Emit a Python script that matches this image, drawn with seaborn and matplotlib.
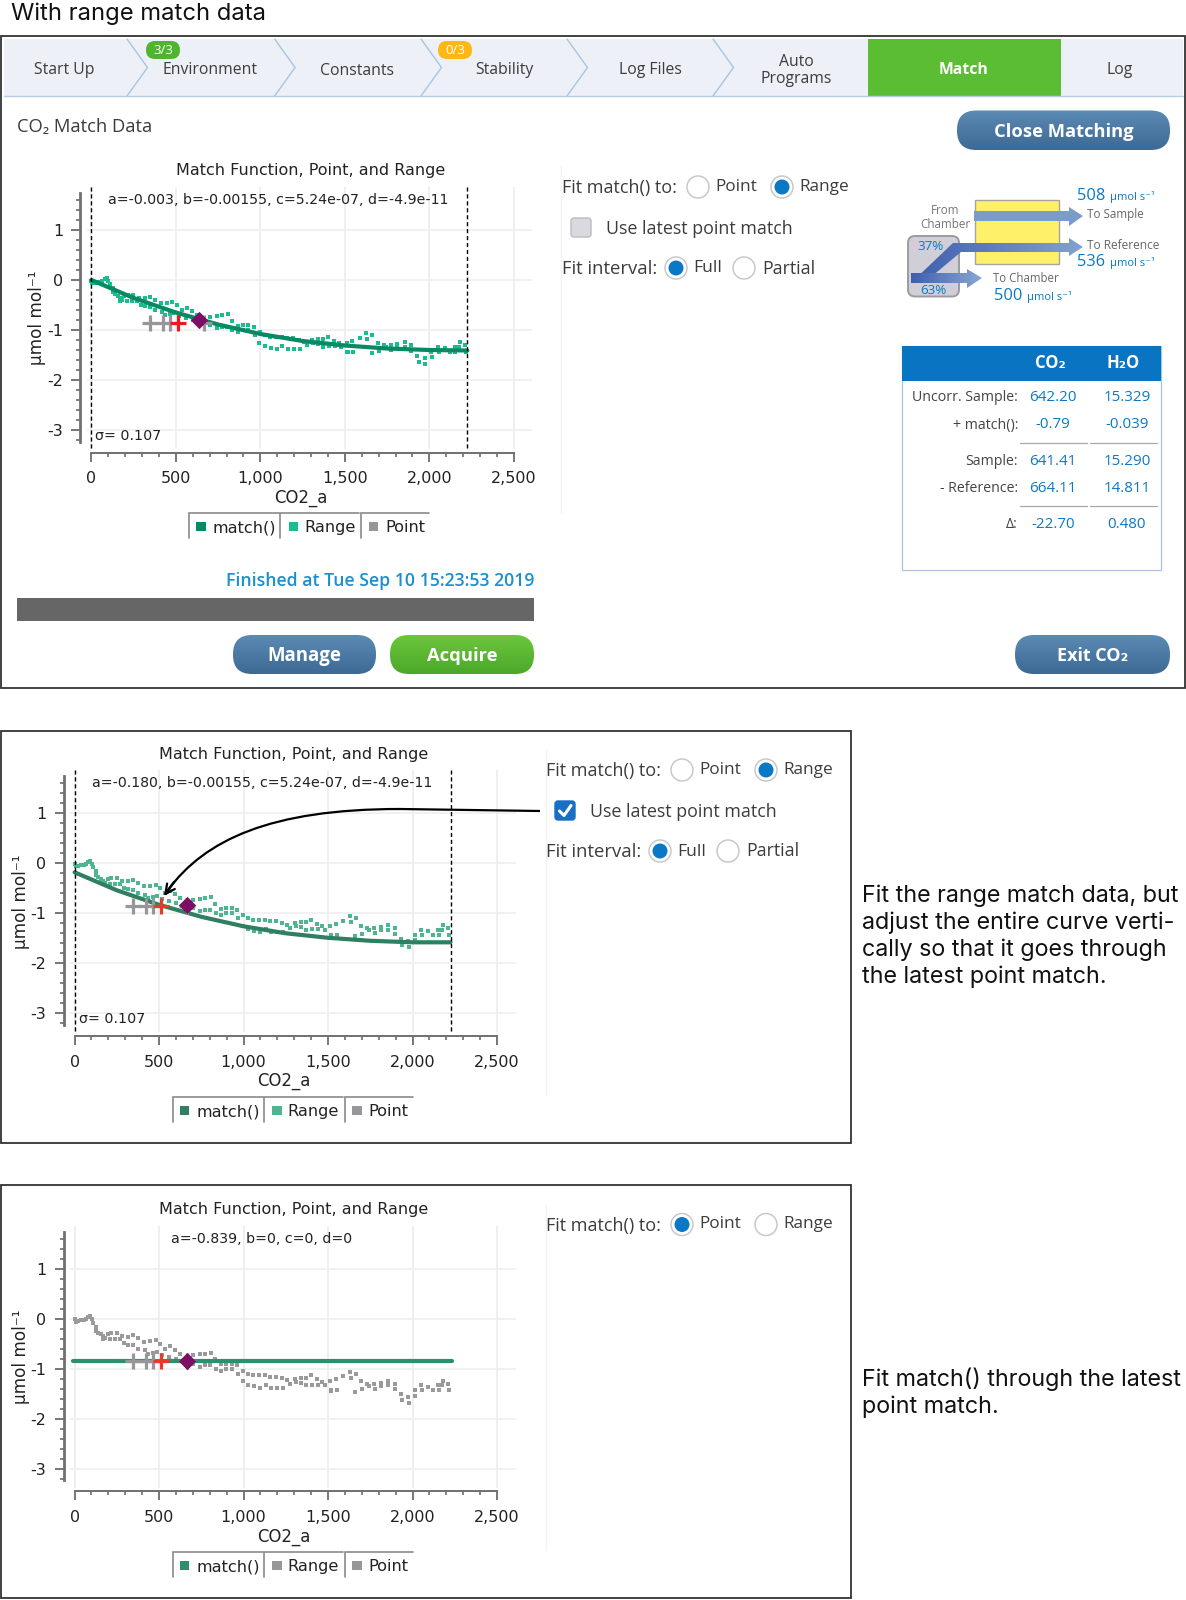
"""Recreate the CO2 range match figure: instrument screen plus two chart panels."""

import numpy as np
import matplotlib
matplotlib.use("Agg")
import matplotlib.pyplot as plt
import seaborn as sns
from matplotlib.colors import LinearSegmentedColormap
from matplotlib.patches import Circle, FancyBboxPatch, PathPatch, Polygon, Rectangle
from matplotlib.path import Path

# data
range_x = [0, 6, 22, 38, 54, 65, 81, 93, 101, 111, 125, 125, 140, 156, 168, 180, 195, 215, 249, 282,
           318, 347, 377, 412, 446, 479, 505, 534, 564, 594, 623, 702, 741, 771, 806, 830, 865, 899,
           929, 962, 968, 997, 1027, 1057, 1090, 1126, 1159, 1193, 1228, 1258, 1277, 1303, 1313, 1342,
           1342, 1368, 1368, 1402, 1405, 1437, 1441, 1465, 1480, 1510, 1515, 1551, 1545, 1588, 1628,
           1634, 1663, 1661, 1697, 1703, 1732, 1742, 1772, 1776, 1811, 1811, 1854, 1854, 1894, 1894,
           1929, 1937, 1973, 1977, 2012, 2016, 2051, 2057, 2091, 2120, 2150, 2154, 2180, 2176, 2209,
           2215, 170, 209, 239, 268, 294, 318, 347, 377, 416, 436, 465, 485, 520, 560, 600, 650, 700,
           741, 771, 800, 834, 865, 899, 929, 994, 1027, 1062, 1096, 1131, 1165, 1200, 1234, 1520]
range_y = [-0.01, -0.06, -0.05, -0.03, -0.03, -0.01, 0.03, 0.05, -0.01, -0.08, -0.16, -0.24, -0.28,
           -0.31, -0.35, -0.39, -0.31, -0.29, -0.29, -0.35, -0.36, -0.33, -0.39, -0.46, -0.45, -0.43,
           -0.50, -0.60, -0.55, -0.62, -0.70, -0.73, -0.71, -0.70, -0.68, -0.81, -0.91, -0.90, -0.90,
           -0.93, -1.10, -1.04, -1.10, -1.13, -1.13, -1.13, -1.16, -1.16, -1.19, -1.23, -1.30, -1.20,
           -1.26, -1.18, -1.28, -1.18, -1.33, -1.13, -1.32, -1.21, -1.32, -1.26, -1.33, -1.25, -1.43,
           -1.43, -1.21, -1.15, -1.06, -1.18, -1.10, -1.46, -1.25, -1.41, -1.30, -1.34, -1.30, -1.40,
           -1.28, -1.34, -1.24, -1.33, -1.30, -1.41, -1.51, -1.63, -1.56, -1.68, -1.43, -1.54, -1.33,
           -1.43, -1.36, -1.43, -1.33, -1.43, -1.24, -1.33, -1.30, -1.43, -0.41, -0.41, -0.41, -0.41,
           -0.49, -0.52, -0.53, -0.60, -0.63, -0.70, -0.68, -0.66, -0.72, -0.76, -0.80, -0.85, -0.90,
           -0.96, -0.93, -0.93, -1.00, -1.04, -1.00, -1.00, -1.25, -1.32, -1.35, -1.38, -1.32, -1.38,
           -1.38, -1.38, -1.44]

curve_x = [0, 250, 500, 750, 1000, 1250, 1500, 1750, 2000, 2225]
curve_full_y = [0.0, -0.36, -0.65, -0.89, -1.08, -1.22, -1.31, -1.37, -1.40, -1.41]
curve_shifted_y = [-0.18, -0.54, -0.83, -1.07, -1.26, -1.40, -1.49, -1.55, -1.58, -1.58]
flat_x = [-12, 2232]
flat_y = [-0.839, -0.839]

point_x = [345, 425, 465, 668]
point_y = [-0.855, -0.855, -0.855, -0.855]
latest_x = [510]
latest_y = [-0.855]
diamond_xy = [(635, -0.79), (665, -0.84), (665, -0.84)]

x_ticks = [0, 500, 1000, 1500, 2000, 2500]
x_tick_labels = ["0", "500", "1,000", "1,500", "2,000", "2,500"]
y_ticks = [1, 0, -1, -2, -3]
y_tick_labels = ["1", "0", "-1", "-2", "-3"]

tab_names = ["Start Up", "Environment", "Constants", "Stability", "Log Files",
             "Auto\nPrograms", "Match", "Log"]
table_rows = ["Uncorr. Sample:", "+ match():", "Sample:", "- Reference:", "Δ:"]
table_co2 = ["642.20", "-0.79", "641.41", "664.11", "-22.70"]
table_h2o = ["15.329", "-0.039", "15.290", "14.811", "0.480"]

W, H = 1186, 1600
UI_FONT = ["Open Sans", "DejaVu Sans"]
BODY_FONT = ["Inter", "Liberation Sans", "DejaVu Sans"]
BLUE = "#0b78c5"
DARK = "#3c3c3c"

sns.set_theme(style="white")
plt.rcParams["font.family"] = ["DejaVu Sans"]
plt.rcParams["axes.unicode_minus"] = False

fig = plt.figure(figsize=(W / 100, H / 100), dpi=100, facecolor="white")

ui = fig.add_axes([0, 0, 1, 1], zorder=10)
ui.set_xlim(0, W)
ui.set_ylim(H, 0)
ui.axis("off")
ui.set_autoscale_on(False)


def label(x, y, s, size=11.5, color=DARK, ha="left", weight="normal", family=UI_FONT, **kw):
    ui.text(x, y, s, fontsize=size, color=color, ha=ha, va="center", fontweight=weight, family=family, **kw)


def gradient_fill(patch, c1, c2, horizontal=False):
    """Fill a patch with a two colour gradient."""
    patch.set_facecolor("none")
    ui.add_patch(patch)
    (x0, y0), (x1, y1) = patch.get_path().get_extents(patch.get_patch_transform()).get_points()
    grad = np.linspace(0, 1, 64).reshape(1, -1) if horizontal else np.linspace(0, 1, 64).reshape(-1, 1)
    cmap = LinearSegmentedColormap.from_list("g", [c1, c2])
    im = ui.imshow(grad, extent=(x0, x1, y1, y0), aspect="auto", cmap=cmap, zorder=patch.get_zorder() - 0.1)
    im.set_clip_path(patch)


def pill(x0, y0, x1, y1, text, c1, c2, size=13.5):
    r = (y1 - y0) / 2
    p = FancyBboxPatch((x0, y0), x1 - x0, y1 - y0, boxstyle=f"round,pad=0,rounding_size={r - 0.5}",
                       linewidth=0, zorder=3)
    gradient_fill(p, c1, c2)
    label((x0 + x1) / 2, (y0 + y1) / 2 + 1.5, text, size=size, color="white", ha="center", weight="bold", zorder=5)


def radio(x, y, on):
    ui.add_patch(Circle((x, y), 11, facecolor="white", edgecolor="#c6c9cc", linewidth=1.1))
    if on:
        ui.add_patch(Circle((x, y), 7.5, facecolor=BLUE, edgecolor="none"))


def options(dx, dy, fit_range, show_extra=True, checked=False):
    label(562 + dx, 188 + dy, "Fit match() to:", size=13)
    radio(698 + dx, 187 + dy, not fit_range)
    label(715 + dx, 187 + dy, "Point", size=12.4)
    radio(782 + dx, 187 + dy, fit_range)
    label(799 + dx, 187 + dy, "Range", size=12.4)
    if not show_extra:
        return
    color = "#1a6fc4" if checked else "#d9d9df"
    ui.add_patch(FancyBboxPatch((571 + dx, 218 + dy), 20, 19, boxstyle="round,pad=0,rounding_size=3",
                                facecolor=color, edgecolor="#1a6fc4" if checked else "#bcbcc2", linewidth=1))
    if checked:
        ui.plot([575.5 + dx, 580 + dx, 587 + dx], [228 + dy, 232.5 + dy, 222.5 + dy], color="white", lw=2.2)
    label(606 + dx, 229 + dy, "Use latest point match", size=12.9)
    label(562 + dx, 269 + dy, "Fit interval:", size=13.3)
    radio(676 + dx, 268 + dy, True)
    label(693 + dx, 268.5 + dy, "Full", size=12.6)
    radio(744 + dx, 268 + dy, False)
    label(762 + dx, 268.5 + dy, "Partial", size=12.8)


def chart(x0, y0, params, params_x, range_color, line_x, line_y, line_color, sigma, latest_color, diamond):
    """Draw one match chart. x0, y0 are the pixel position of the data origin."""
    px_x = 422.4 / 2500
    px_y = 50.0
    left, right = x0 - 11, x0 + 442
    top, bottom = y0 - 93, y0 + 172.7
    ax = fig.add_axes([left / W, 1 - bottom / H, (right - left) / W, (bottom - top) / H], zorder=1)
    ax.set_xlim(-11 / px_x, 442 / px_x)
    ax.set_ylim(-172.7 / px_y, 93 / px_y)
    ax.patch.set_alpha(0)

    ax.hlines(y_ticks, -28, 2610, color="#f0f0f0", lw=1.3, zorder=0)
    ax.vlines(x_ticks, -3.38, 1.86, color="#eeeeee", lw=1.3, zorder=0)

    sns.scatterplot(x=range_x, y=range_y, ax=ax, marker="s", s=5, color=range_color, linewidth=0, zorder=2)
    sns.lineplot(x=line_x, y=line_y, ax=ax, color=line_color, linewidth=3, errorbar=None, estimator=None, zorder=3)
    sns.scatterplot(x=point_x, y=point_y, ax=ax, marker="+", s=135, color="#97979b", linewidth=2.3, zorder=4)
    sns.scatterplot(x=latest_x, y=latest_y, ax=ax, marker="+", s=135, color=latest_color, linewidth=2.3, zorder=5)
    sns.scatterplot(x=[diamond[0]], y=[diamond[1]], ax=ax, marker="D", s=78, color="#7c0f63", linewidth=0, zorder=6)

    if sigma:
        ax.vlines([0, 2225], -3.36, 1.86, color="black", lw=1, linestyles=(0, (3, 2)), zorder=3)

    sns.despine(ax=ax, top=True, right=True)
    ax.spines["left"].set_bounds(-3.23, 1.74)
    ax.spines["left"].set_color("#707070")
    ax.spines["left"].set_linewidth(2)
    ax.spines["bottom"].set_bounds(0, 2500)
    ax.spines["bottom"].set_color("#707070")
    ax.spines["bottom"].set_linewidth(1.4)

    ax.set_xticks(x_ticks, labels=x_tick_labels)
    ax.set_yticks(y_ticks, labels=y_tick_labels)
    ax.set_xticks(np.arange(0, 2501, 100), minor=True)
    ax.set_yticks(np.arange(-3.2, 1.61, 0.2), minor=True)
    ax.tick_params(axis="both", which="major", length=6.5, width=1.2, color="#606060", labelsize=11.5,
                   labelcolor="#222222", bottom=True, left=True, pad=6)
    ax.tick_params(axis="x", which="major", pad=7)
    ax.tick_params(axis="both", which="minor", length=3, width=1.1, color="#606060", bottom=True, left=True)

    w, h = right - left, bottom - top
    ax.set_xlabel("CO2_a", fontsize=11.9, color="#222222", va="center")
    ax.xaxis.set_label_coords((x0 + 209 - left) / w, -(45.5) / h)
    ax.set_ylabel("µmol mol⁻¹", fontsize=12.2, color="#222222", va="center")
    ax.yaxis.set_label_coords((x0 - 54 - left) / w, (bottom - (y0 + 38)) / h)

    label(x0 + 219, y0 - 109, "Match Function, Point, and Range", size=11.5, color="#222222", ha="center",
          family=["DejaVu Sans"])
    label(params_x, y0 - 80, params, size=10.2, color="#222222", ha="center", family=["DejaVu Sans"])
    if sigma:
        label(x0 + 4, y0 + 156, sigma, size=10.3, color="#222222", family=["DejaVu Sans"])
    return ax


def legend_tabs(x0, y0, colors):
    names = ["match()", "Range", "Point"]
    lefts = [0, 91, 172]
    rights = [90, 170, 240]
    squares = [7, 99.5, 179.5]
    texts = [24, 115, 196]
    for i in range(3):
        a, b = x0 + lefts[i], x0 + rights[i]
        ui.plot([a, a, b], [y0 + 25.5, y0, y0], color="#8a8a8a", lw=1.2, solid_joinstyle="miter")
        ui.add_patch(Rectangle((x0 + squares[i], y0 + 9), 9.5, 9.5, facecolor=colors[i], edgecolor="none"))
        label(x0 + texts[i], y0 + 15, names[i], size=11.6, color="#222222", family=["DejaVu Sans"])


# ---- top screen ----
label(11, 14, "With range match data", size=17.1, color="#111111", family=BODY_FONT)
ui.add_patch(Rectangle((1, 36), 1184, 652, facecolor="none", edgecolor="#333333", linewidth=1.3))
ui.add_patch(Rectangle((4, 39), 1179, 57, facecolor="#eef0f7", edgecolor="none"))
ui.plot([4, 1183], [96, 96], color="#b8cde4", lw=1)
ui.add_patch(Rectangle((868, 39), 193, 57, facecolor="#5bbd33", edgecolor="none"))
for cx in [127, 274.6, 421, 567, 713]:
    ui.plot([cx, cx + 20.5, cx], [39, 67.5, 96], color="#a9c4e0", lw=1)

tab_x = [64, 210, 357, 504, 650, 796, 963, 1120]
tab_y = [70.5, 69.5, 71, 69.5, 70, 70.5, 69.5, 70]
for name, tx, ty in zip(tab_names, tab_x, tab_y):
    on = name == "Match"
    label(tx, ty, name, size=11.3, color="white" if on else DARK, ha="center", weight="bold" if on else "normal",
          linespacing=1.1)

for bx, col, txt in [(146, "#4fb52e", "3/3"), (438, "#fdb813", "0/3")]:
    ui.add_patch(FancyBboxPatch((bx, 41), 34, 18, boxstyle="round,pad=0,rounding_size=9", facecolor=col,
                                edgecolor="none", zorder=4))
    label(bx + 17, 50, txt, size=9.5, color="white", ha="center", zorder=5)

label(17, 127, "CO₂ Match Data", size=13.2)
pill(957, 110.5, 1170, 150, "Close Matching", "#5b8ab5", "#3d6a94", size=13.2)
pill(233, 635, 376, 674, "Manage", "#5b8ab5", "#3d6a94", size=13.4)
pill(390, 635, 534, 674, "Acquire", "#6cc63d", "#4ba828", size=13.2)
pill(1015, 635, 1170, 674, "Exit CO₂", "#5b8ab5", "#3d6a94", size=13)

label(534, 581, "Finished at Tue Sep 10 15:23:53 2019", size=12.7, color="#1c8fce", ha="right", weight="semibold")
ui.add_patch(Rectangle((16.5, 598), 517.5, 22.5, facecolor="#666666", edgecolor="none"))
ui.plot([561, 561], [165, 512], color="#f1f4f4", lw=1)

options(0, 0, True)

# flow diagram
ui.add_patch(Rectangle((974.5, 199.5), 84.5, 64, facecolor="#fff06a", edgecolor="#a5a5a0", linewidth=1))
ui.add_patch(FancyBboxPatch((908, 236), 51, 60.5, boxstyle="round,pad=0,rounding_size=7", facecolor="#d0ced6",
                            edgecolor="#9c9ca0", linewidth=1.4))
ui.add_patch(Polygon([(974, 211), (1069, 211), (1069, 207), (1083, 216), (1069, 226), (1069, 221), (974, 221)],
                     facecolor="#7b9cc9", edgecolor="none", zorder=3))
gradient_fill(Polygon([(912, 282), (953, 243), (1069, 243), (1069, 238), (1083, 247), (1069, 256), (1069, 252),
                       (961, 252), (925, 282)], edgecolor="none", zorder=3), "#3f5fae", "#83a1cf", horizontal=True)
gradient_fill(Polygon([(911, 273), (967, 273), (967, 269), (982, 278), (967, 288), (967, 283), (911, 283)],
                      edgecolor="none", zorder=3), "#3f5fae", "#8aa6d2", horizontal=True)
label(930, 247, "37%", size=9.6, color=BLUE, ha="center", zorder=5)
label(933, 291, "63%", size=9.6, color=BLUE, ha="center", zorder=5)
label(945, 217.5, "From\nChamber", size=8.4, color="#777777", ha="center", linespacing=1.05)
label(1077, 196, "508", size=11.8, color=BLUE)
label(1110, 197, "µmol s⁻¹", size=8, color=BLUE)
label(1087, 214.5, "To Sample", size=8.4, color="#666666")
label(1087, 245.5, "To Reference", size=8.6, color="#666666")
label(1077, 262, "536", size=11.8, color=BLUE)
label(1110, 263, "µmol s⁻¹", size=8, color=BLUE)
label(993, 279, "To Chamber", size=8.3, color="#666666")
label(994, 296.5, "500", size=11.8, color=BLUE)
label(1027, 297, "µmol s⁻¹", size=8, color=BLUE)

# value table
ui.add_patch(Rectangle((901.5, 345.5), 259.5, 224.5, facecolor="white", edgecolor="#a9c4e0", linewidth=0.9))
ui.add_patch(Rectangle((901.5, 345.5), 259.5, 35, facecolor="#0874c2", edgecolor="none"))
label(1050, 363, "CO₂", size=12, color="white", ha="center", weight="bold")
label(1123, 363, "H₂O", size=12, color="white", ha="center", weight="bold")
row_y = [397.5, 425, 461.5, 488.5, 524.5]
for name, co2, h2o, ry in zip(table_rows, table_co2, table_h2o, row_y):
    label(1018, ry, name, size=10.2, color="#444444", ha="right")
    label(1053, ry, co2, size=10.9, color=BLUE, ha="center")
    label(1127, ry, h2o, size=10.9, color=BLUE, ha="center")
for ly in [442.5, 505.5]:
    ui.plot([1020, 1087], [ly, ly], color="#a8a8a8", lw=0.9)
    ui.plot([1090, 1157], [ly, ly], color="#a8a8a8", lw=0.9)

chart(91.4, 280, "a=-0.003, b=-0.00155, c=5.24e-07, d=-4.9e-11", 278, "#1dbb90", curve_x, curve_full_y, "#0a8763",
      "σ= 0.107", "#f5141c", diamond_xy[0])
legend_tabs(189, 512.7, ["#0a8763", "#1dbb90", "#97979b"])

# ---- second panel ----
ui.add_patch(Rectangle((1, 730.5), 850, 412.5, facecolor="none", edgecolor="#333333", linewidth=1.3))
chart(74.6, 863.3, "a=-0.180, b=-0.00155, c=5.24e-07, d=-4.9e-11", 262, "#4db590", curve_x, curve_shifted_y,
      "#2f7f62", "σ= 0.107", "#e8382a", diamond_xy[1])
legend_tabs(172.5, 1096.7, ["#2f7f62", "#4db590", "#97979b"])
ui.plot([546, 546], [750, 1095], color="#f1f4f4", lw=1)
options(-16, 583, True, checked=True)

curve = Path([(540, 811), (400, 809), (270, 809), (205, 840), (168, 890)],
             [Path.MOVETO, Path.LINETO, Path.CURVE4, Path.CURVE4, Path.CURVE4])
ui.add_patch(PathPatch(curve, facecolor="none", edgecolor="black", linewidth=1.6, zorder=8))
ui.annotate("", xy=(164, 896), xytext=(174, 882),
            arrowprops=dict(arrowstyle="->", color="black", lw=1.6, mutation_scale=17, shrinkA=0, shrinkB=0), zorder=8)

for line, ly in zip(["Fit the range match data, but", "adjust the entire curve verti-",
                     "cally so that it goes through", "the latest point match."], [895.5, 922.5, 949.5, 976.5]):
    label(862.5, ly, line, size=16.8, color="#111111", family=BODY_FONT)

# ---- third panel ----
ui.add_patch(Rectangle((1, 1185), 850, 413, facecolor="none", edgecolor="#333333", linewidth=1.3))
chart(74.6, 1318.7, "a=-0.839, b=0, c=0, d=0", 262, "#9a9a9c", flat_x, flat_y, "#2f8f6b", "", "#e8382a", diamond_xy[2])
legend_tabs(172.5, 1551.7, ["#2f8f6b", "#97979b", "#97979b"])
ui.plot([546, 546], [1205, 1550], color="#f1f4f4", lw=1)
options(-16, 1037.5, False, show_extra=False)

label(862.5, 1379, "Fit match() through the latest", size=16.8, color="#111111", family=BODY_FONT)
label(862.5, 1406.5, "point match.", size=16.8, color="#111111", family=BODY_FONT)

fig.savefig("out.png", dpi=100, facecolor="white")
